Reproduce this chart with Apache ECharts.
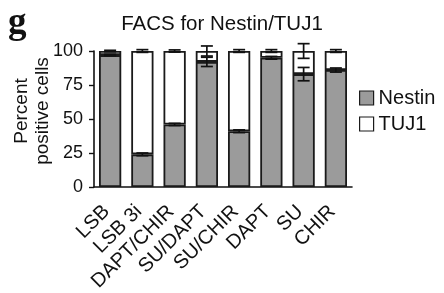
<!DOCTYPE html>
<html>
<head>
<meta charset="utf-8">
<script src="https://cdn.jsdelivr.net/npm/echarts@6/dist/echarts.min.js"></script>
<style>
html,body{margin:0;padding:0;background:#fff;}
#chart{width:444px;height:293px;}
</style>
</head>
<body>
<div id="chart"></div>
<script>
const categories = ['LSB', 'LSB 3i', 'DAPT/CHIR', 'SU/DAPT', 'SU/CHIR', 'DAPT', 'SU', 'CHIR'];
const nestin = [97, 24, 46, 92, 41, 95, 83, 86];
const nestinErr = [0.5, 1, 0.8, 3.4, 1, 1, 4.9, 1.5];
const tuj1 = [3, 76, 54, 8, 59, 5, 17, 14];
const tuj1Err = [0.5, 1, 0.8, 3.7, 1, 1, 5.4, 1];
const yTicks = [0, 25, 50, 75, 100];

const FONT = 'Liberation Sans';
const BORDER = '#1a1a1a';
const GRAY = '#9b9b9b';

const errData = [];
categories.forEach((c, i) => {
  errData.push([i, nestin[i], nestinErr[i]]);
  errData.push([i, nestin[i] + tuj1[i], tuj1Err[i]]);
});

function renderErr(params, api) {
  const i = api.value(0), c = api.value(1), e = api.value(2);
  const top = api.coord([i, c + e]);
  const bot = api.coord([i, c - e]);
  const hw = 6;
  const style = { stroke: '#111', lineWidth: 1.7 };
  return {
    type: 'group',
    children: [
      { type: 'line', shape: { x1: top[0], y1: top[1], x2: bot[0], y2: bot[1] }, style },
      { type: 'line', shape: { x1: top[0] - hw, y1: top[1], x2: top[0] + hw, y2: top[1] }, style },
      { type: 'line', shape: { x1: bot[0] - hw, y1: bot[1], x2: bot[0] + hw, y2: bot[1] }, style }
    ]
  };
}

const chart = echarts.init(document.getElementById('chart'), null, { renderer: 'canvas' });
chart.setOption({
  animation: false,
  backgroundColor: '#fff',
  title: [
    { text: 'FACS for Nestin/TUJ1', left: 'center', top: 14, padding: 0,
      textStyle: { fontFamily: FONT, fontSize: 20.5, fontWeight: 'normal', color: '#111' } },
    { text: 'g', left: 8, top: 5, padding: 0,
      textStyle: { fontFamily: 'Liberation Serif', fontSize: 37, fontWeight: 'bold', color: '#111' } }
  ],
  legend: {
    orient: 'vertical', left: 354, top: 83, itemWidth: 14, itemHeight: 14, itemGap: 6,
    icon: 'rect',
    textStyle: { fontFamily: FONT, fontSize: 20, color: '#111', padding: [0, 0, 0, 0] },
    data: [
      { name: 'Nestin', itemStyle: { color: GRAY, borderColor: BORDER, borderWidth: 1.2 } },
      { name: 'TUJ1', itemStyle: { color: '#fff', borderColor: BORDER, borderWidth: 1.2 } }
    ]
  },
  grid: { left: 94, right: 92, top: 51, bottom: 106, outerBoundsMode: 'none', containLabel: false },
  xAxis: {
    type: 'category', data: categories,
    axisLine: { lineStyle: { color: '#111', width: 1.6 } },
    axisTick: { alignWithLabel: true, length: 5, lineStyle: { color: '#111', width: 1.4 } },
    axisLabel: { rotate: 45, margin: 18, interval: 0, fontFamily: FONT, fontSize: 20, color: '#111',
      hideOverlap: false, padding: [0, 5, 0, 0] }
  },
  yAxis: {
    type: 'value', min: 0, max: 100, interval: 25,
    name: 'Percent\npositive cells', nameLocation: 'middle', nameRotate: 90, nameGap: 41,
    nameMoveOverlap: false,
    nameTextStyle: { fontFamily: FONT, fontSize: 19, color: '#111', lineHeight: 21, padding: [0, 0, 0, 16] },
    splitLine: { show: false },
    axisLine: { show: true, lineStyle: { color: '#111', width: 1.6 } },
    axisTick: { show: true, length: 5, lineStyle: { color: '#111', width: 1.4 } },
    axisLabel: { margin: 11, fontFamily: FONT, fontSize: 18, color: '#111',
      formatter: v => (yTicks.indexOf(v) >= 0 ? String(v) : '') }
  },
  series: [
    { name: 'Nestin', type: 'bar', stack: 'a', data: nestin, barWidth: '69%',
      itemStyle: { color: GRAY, borderColor: BORDER, borderWidth: 1.8 } },
    { name: 'TUJ1', type: 'bar', stack: 'a', data: tuj1, barWidth: '69%',
      itemStyle: { color: '#fff', borderColor: BORDER, borderWidth: 1.8 } },
    { name: 'err', type: 'custom', data: errData, renderItem: renderErr, z: 5, clip: false }
  ]
});
</script>
</body>
</html>
